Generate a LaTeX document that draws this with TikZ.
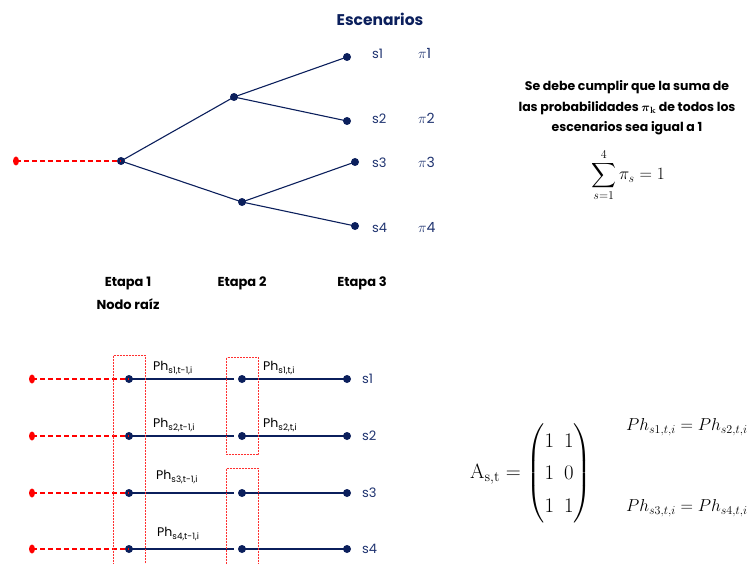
\documentclass[tikz,border=0pt]{standalone}
\usepackage{amsmath}
\usepackage[no-math]{fontspec}
\setmainfont{Poppins}[BoldFont={Poppins Bold}]
\usetikzlibrary{shapes.geometric}
\definecolor{navy}{HTML}{0B1F5C}
\definecolor{lab}{HTML}{1F3370}
\definecolor{myred}{HTML}{FF0000}
\definecolor{boxred}{HTML}{FF3030}
\begin{document}
\begin{tikzpicture}[x=1pt,y=-1pt,
  dot/.style={circle,fill=navy,inner sep=0pt,minimum size=8pt},
  rdot/.style={ellipse,fill=myred,inner sep=0pt,minimum width=6pt,minimum height=9pt},
  edge/.style={draw=navy,line width=1.1pt},
  rdash/.style={draw=myred,line width=1.1pt,dash pattern=on 5pt off 3pt},
  slab/.style={text=lab,font=\fontsize{13}{15}\selectfont,anchor=west,inner sep=0pt},
  plab/.style={text=lab,font=\fontsize{14}{16}\selectfont,anchor=west,inner sep=0pt},
  etapa/.style={font=\bfseries\fontsize{13}{15}\selectfont,inner sep=0pt},
  phlab/.style={font=\fontsize{12.5}{14}\selectfont,anchor=west,inner sep=0pt},
  rbox/.style={draw=boxred,line width=1pt,dash pattern=on 2pt off 1pt}]
\useasboundingbox (0,0) rectangle (754,564);
% ---------- top tree
\node[text=navy,font=\bfseries\fontsize{15.5}{17}\selectfont] (esc) at (380,19) {Escenarios};
\node[rdot] (r0) at (16,161) {};
\node[dot] (root) at (121,161) {};
\node[dot] (m1) at (234,97) {};
\node[dot] (m2) at (242,202) {};
\node[dot] (l1) at (347,57) {};
\node[dot] (l2) at (347,121) {};
\node[dot] (l3) at (355,162) {};
\node[dot] (l4) at (355,226) {};
\draw[rdash] (r0.center) -- (root.center);
\draw[edge] (root.center) -- (m1.center);
\draw[edge] (root.center) -- (m2.center);
\draw[edge] (m1.center) -- (l1.center);
\draw[edge] (m1.center) -- (l2.center);
\draw[edge] (m2.center) -- (l3.center);
\draw[edge] (m2.center) -- (l4.center);
\node[slab] (s1) at (372,54) {s1};
\node[slab] (s2) at (372,119) {s2};
\node[slab] (s3) at (372,163) {s3};
\node[slab] (s4) at (372,228) {s4};
\node[plab] (p1) at (418,53) {$\pi$1};
\node[plab] (p2) at (418,118) {$\pi$2};
\node[plab] (p3) at (418,162) {$\pi$3};
\node[plab] (p4) at (418,227) {$\pi$4};
\node[etapa] (e1) at (128,283) {Etapa 1};
\node[etapa] (nr) at (128,304) {Nodo raíz};
\node[etapa] (e2) at (242,283) {Etapa 2};
\node[etapa] (e3) at (362,283) {Etapa 3};
% ---------- right text
\node[font=\bfseries\fontsize{12.5}{20.5}\selectfont,align=center,inner sep=0pt] (cond) at (627,108)
  {Se debe cumplir que la suma de\\las probabilidades {\mathversion{bold}$\boldsymbol{\pi}_{\mathbf{k}}$} de todos los\\escenarios sea igual a 1};
\node[font=\fontsize{17}{20}\selectfont] (sum) at (628,175) {$\displaystyle\sum_{s=1}^{4}\pi_s = 1$};
% ---------- bottom
\foreach \i/\y in {1/379,2/436,3/493,4/549}{
  \node[rdot] (b\i r) at (32,\y) {};
  \node[dot] (b\i a) at (129,\y) {};
  \node[dot] (b\i b) at (242,\y) {};
  \node[dot] (b\i c) at (347,\y) {};
  \draw[rdash] (b\i r.center) -- (b\i a.center);
  \draw[edge,shorten >=8pt] (b\i a.center) -- (b\i b.center);
  \draw[edge] (b\i b.center) -- (b\i c.center);
  \node[slab] (bs\i) at (362,\y) {s\i};
}
\draw[rbox] (113.5,355.5) -- (113.5,563.5);
\draw[rbox] (113.5,355.5) -- (145.5,355.5) -- (145.5,563.5);
\draw[rbox] (226.5,357.5) rectangle (258.5,454.5);
\draw[rbox] (226.5,468.5) -- (226.5,563.5);
\draw[rbox] (226.5,468.5) -- (258.5,468.5) -- (258.5,563.5);
\node[phlab] (ph1a) at (153,368) {Ph\textsubscript{s1,t-1,i}};
\node[phlab] (ph1b) at (263,368) {Ph\textsubscript{s1,t,i}};
\node[phlab] (ph2a) at (153,425) {Ph\textsubscript{s2,t-1,i}};
\node[phlab] (ph2b) at (263,425) {Ph\textsubscript{s2,t,i}};
\node[phlab] (ph3a) at (156,477) {Ph\textsubscript{s3,t-1,i}};
\node[phlab] (ph4a) at (157,534) {Ph\textsubscript{s4,t-1,i}};
% ---------- matrix and equalities
\node[anchor=west,inner sep=0pt,font=\fontsize{22}{26}\selectfont] (mat) at (470,473)
  {$\mathrm{A}_{\mathrm{s,t}} = \renewcommand\arraystretch{1.25}\begin{pmatrix}1 & 1\\ 1 & 0\\ 1 & 1\end{pmatrix}$};
\node[anchor=west,inner sep=0pt,font=\fontsize{17}{20}\selectfont] (eq1) at (626,427) {$Ph_{s1,t,i} = Ph_{s2,t,i}$};
\node[anchor=west,inner sep=0pt,font=\fontsize{17}{20}\selectfont] (eq2) at (626,508) {$Ph_{s3,t,i} = Ph_{s4,t,i}$};
\end{tikzpicture}
\end{document}
